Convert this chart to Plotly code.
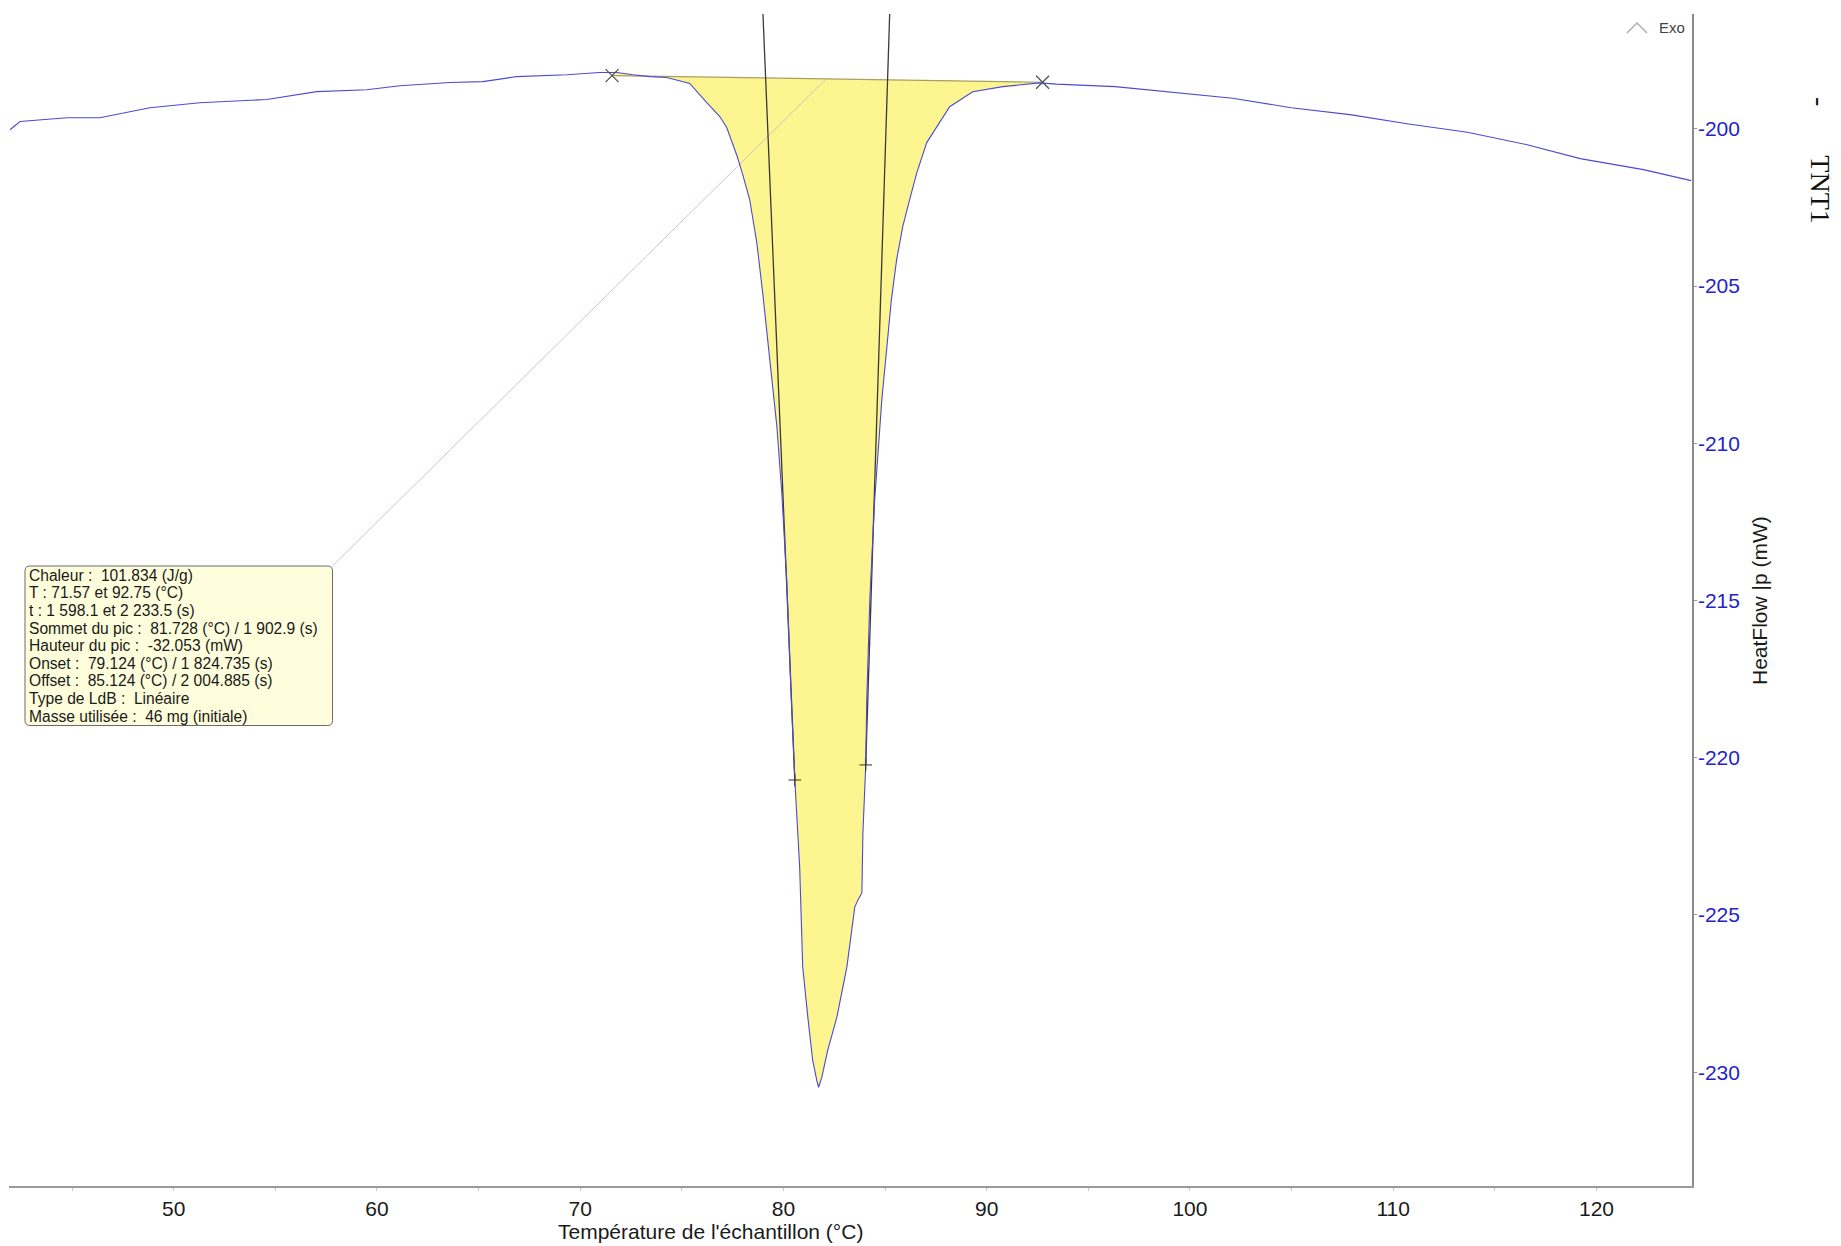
import plotly.graph_objects as go

# ---------------- data ----------------
temp_left = [41.95, 42.44, 44.75, 46.37, 48.83, 51.29, 54.58, 57.04, 59.50, 61.13,
             63.59, 65.21, 66.88, 69.34, 70.96, 71.80]
hf_left = [-200.03, -199.77, -199.65, -199.65, -199.33, -199.17, -199.07, -198.82, -198.76, -198.63,
           -198.53, -198.50, -198.34, -198.28, -198.21, -198.21]

peak_T = [72.59, 73.42, 74.26, 75.39, 76.23, 76.87, 77.21, 77.71, 78.00, 78.34,
          78.69, 78.98, 79.33, 79.68, 79.92, 80.16, 80.39, 80.56, 80.80, 80.95,
          81.20, 81.44, 81.64, 81.73, 81.89, 82.18, 82.63, 83.12, 83.51, 83.66,
          83.86, 83.91, 84.05, 84.10, 84.25, 84.49, 84.84, 85.31, 85.57, 85.87,
          86.21, 86.56, 87.05, 87.54, 88.18, 89.31, 90.79, 92.61]
peak_HF = [-198.28, -198.34, -198.37, -198.56, -199.17, -199.61, -199.96, -200.85, -201.46, -202.25,
           -203.62, -205.21, -207.35, -209.48, -211.58, -214.35, -218.17, -220.71, -223.48, -226.66,
           -228.25, -229.62, -230.26, -230.48, -230.16, -229.30, -228.25, -226.66, -224.75, -224.53,
           -224.30, -222.40, -220.23, -218.17, -214.98, -211.80, -208.62, -205.44, -204.16, -203.11,
           -202.25, -201.40, -200.44, -199.93, -199.30, -198.82, -198.66, -198.54]

temp_right = [93.43, 96.32, 99.21, 102.10, 104.98, 107.87, 110.76, 113.65, 116.54, 119.20,
              122.31, 124.66]
hf_right = [-198.58, -198.66, -198.84, -199.03, -199.33, -199.55, -199.85, -200.11, -200.50, -200.95,
            -201.30, -201.65]

T_limits = [71.57, 92.75]          # integration limits (°C)
base_limits = [-198.31, -198.52]   # integration baseline heat flow at limits (mW)
onset_T = 79.124
offset_T = 85.124
inflect_left = (80.56, -220.71)
inflect_right = (84.05, -220.23)
leader_T = 82.1

x_ticks = [50, 60, 70, 80, 90, 100, 110, 120]
y_ticks = [-200, -205, -210, -215, -220, -225, -230]
y_tick_labels = ["-200", "-205", "-210", "-215", "-220", "-225", "-230"]

box_lines = [
    "Chaleur :  101.834 (J/g)",
    "T : 71.57 et 92.75 (°C)",
    "t : 1 598.1 et 2 233.5 (s)",
    "Sommet du pic :  81.728 (°C) / 1 902.9 (s)",
    "Hauteur du pic :  -32.053 (mW)",
    "Onset :  79.124 (°C) / 1 824.735 (s)",
    "Offset :  85.124 (°C) / 2 004.885 (s)",
    "Type de LdB :  Linéaire",
    "Masse utilisée :  46 mg (initiale)",
]

# ---------------- layout constants ----------------
W, H = 1841, 1246
PL, PR, PT, PB = 9, 1692, 14, 1186
x_range = [41.9, 124.7]
y_range = [-233.62, -196.35]
SANS = "Liberation Sans, Arial, sans-serif"


def paper_x(p):
    return (p - PL) / (PR - PL)


def paper_y(p):
    return (PB - p) / (PB - PT)


def data_x(p):
    return x_range[0] + (p - PL) / (PR - PL) * (x_range[1] - x_range[0])


def data_y(p):
    return y_range[1] - (p - PT) / (PB - PT) * (y_range[1] - y_range[0])


def baseline_at(t):
    return base_limits[0] + (base_limits[1] - base_limits[0]) * (t - T_limits[0]) / (T_limits[1] - T_limits[0])


temperature = temp_left + peak_T + temp_right
heatflow = hf_left + peak_HF + hf_right

inner = [(t, h) for t, h in zip(temperature, heatflow) if T_limits[0] < t < T_limits[1]]
fill_x = [T_limits[0]] + [p[0] for p in inner] + [T_limits[1]]
fill_y = [base_limits[0]] + [p[1] for p in inner] + [base_limits[1]]

fig = go.Figure()

fig.add_trace(go.Scatter(x=fill_x, y=fill_y, mode="lines", fill="toself",
                         fillcolor="#fdf58f", line=dict(width=0), hoverinfo="skip"))

# leader line from info box to baseline
box_l, box_t, box_r, box_b = 25, 566, 332.5, 725.5
fig.add_trace(go.Scatter(x=[data_x(box_r), leader_T], y=[data_y(box_t), baseline_at(leader_T)],
                         mode="lines", line=dict(color="#d8c0c0", width=1), hoverinfo="skip"))

# integration baseline
fig.add_trace(go.Scatter(x=T_limits, y=base_limits, mode="lines",
                         line=dict(color="#a8a060", width=1.2), hoverinfo="skip"))

# tangents (onset / offset)
for t0, (ti, hi) in [(onset_T, inflect_left), (offset_T, inflect_right)]:
    b0 = baseline_at(t0)
    slope = (ti - t0) / (hi - b0)
    x_top = t0 + slope * (y_range[1] - b0)
    fig.add_trace(go.Scatter(x=[x_top, ti], y=[y_range[1], hi], mode="lines",
                             line=dict(color="#3a3a3a", width=1.3), hoverinfo="skip"))

# signal
fig.add_trace(go.Scatter(x=temperature, y=heatflow, mode="lines",
                         line=dict(color="#4b4bd2", width=1.1), hoverinfo="skip"))

# markers
fig.add_trace(go.Scatter(x=T_limits, y=base_limits, mode="markers",
                         marker=dict(symbol="x-thin-open", size=13, color="#505050",
                                     line=dict(color="#505050", width=1.2)),
                         hoverinfo="skip"))
fig.add_trace(go.Scatter(x=[inflect_left[0], inflect_right[0]], y=[inflect_left[1], inflect_right[1]],
                         mode="markers",
                         marker=dict(symbol="cross-thin-open", size=9, color="#303030",
                                     line=dict(color="#303030", width=1)),
                         hoverinfo="skip"))

shapes = []
# rounded info box
x0, x1 = paper_x(box_l), paper_x(box_r)
y0, y1 = paper_y(box_b), paper_y(box_t)
rx = 5 / (PR - PL)
ry = 5 / (PB - PT)
path = (f"M {x0+rx},{y1} L {x1-rx},{y1} Q {x1},{y1} {x1},{y1-ry} "
        f"L {x1},{y0+ry} Q {x1},{y0} {x1-rx},{y0} L {x0+rx},{y0} "
        f"Q {x0},{y0} {x0},{y0+ry} L {x0},{y1-ry} Q {x0},{y1} {x0+rx},{y1} Z")
shapes.append(dict(type="path", xref="paper", yref="paper", path=path,
                   fillcolor="#fefedc", line=dict(color="#6a6a6a", width=1), layer="above"))
# Exo chevron
shapes.append(dict(type="path", xref="paper", yref="paper",
                   path=(f"M {paper_x(1627)},{paper_y(33)} L {paper_x(1637)},{paper_y(23)} "
                         f"L {paper_x(1647)},{paper_y(33)}"),
                   line=dict(color="#b0b0b0", width=1.5)))

annotations = []
for i, line in enumerate(box_lines):
    annotations.append(dict(xref="paper", yref="paper", x=paper_x(27), y=paper_y(575.3 + 17.61 * i),
                            xanchor="left", yanchor="middle", showarrow=False, text=line,
                            font=dict(family=SANS, size=15.6, color="#1a1a1a")))

annotations.append(dict(xref="paper", yref="paper", x=paper_x(1657), y=paper_y(27.5),
                        xanchor="left", yanchor="middle", showarrow=False, text="Exo",
                        font=dict(family=SANS, size=15, color="#444444")))
annotations.append(dict(xref="paper", yref="paper", x=paper_x(1759), y=paper_y(601),
                        xanchor="center", yanchor="middle", showarrow=False, textangle=-90,
                        text="HeatFlow |p (mW)", font=dict(family=SANS, size=21, color="#1a1a1a")))
annotations.append(dict(xref="paper", yref="paper", x=paper_x(710), y=paper_y(1231),
                        xanchor="center", yanchor="middle", showarrow=False,
                        text="Température de l'échantillon (°C)",
                        font=dict(family=SANS, size=21, color="#1a1a1a")))
annotations.append(dict(xref="paper", yref="paper", x=paper_x(1820), y=paper_y(160),
                        xanchor="center", yanchor="middle", showarrow=False, textangle=90,
                        text="-" + "\u00a0" * 7 + "TNT1",
                        font=dict(family="Liberation Serif, Times New Roman, serif", size=28,
                                  color="#111111")))

fig.update_layout(
    width=W, height=H,
    margin=dict(l=PL, r=W - PR, t=PT, b=H - PB, pad=0),
    paper_bgcolor="white", plot_bgcolor="white",
    showlegend=False,
    shapes=shapes, annotations=annotations,
    xaxis=dict(range=x_range, tickvals=x_ticks, showgrid=False, zeroline=False,
               showline=True, linecolor="#9a9a9a", linewidth=1.5,
               ticks="outside", ticklen=3, tickcolor="#c8c8c8",
               minor=dict(dtick=5, ticks="outside", ticklen=3, tickcolor="#c8c8c8"),
               tickfont=dict(family=SANS, size=21, color="#1a1a1a")),
    yaxis=dict(range=y_range, tickvals=y_ticks, ticktext=y_tick_labels, side="right",
               showgrid=False, zeroline=False,
               showline=True, linecolor="#8a8a8a", linewidth=1.5,
               ticks="outside", ticklen=3, tickcolor="#9a9a9a", ticklabelstandoff=-3,
               tickfont=dict(family=SANS, size=21, color="#2424c8")),
)

fig.write_html("out.html", config={"displayModeBar": False},
               post_script="document.body.style.margin='0';")
